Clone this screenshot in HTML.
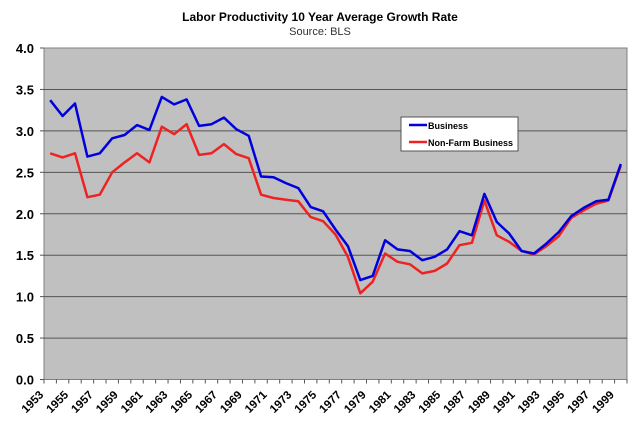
<!DOCTYPE html>
<html><head><meta charset="utf-8"><style>
html,body{margin:0;padding:0;background:#fff;}
svg{display:block;font-family:"Liberation Sans",Arial,sans-serif;}
</style></head><body>
<svg id="c" width="640" height="438" xmlns="http://www.w3.org/2000/svg">
<text x="320" y="21" text-anchor="middle" font-size="12" font-weight="bold">Labor Productivity 10 Year Average Growth Rate</text>
<text x="320" y="35" text-anchor="middle" font-size="11" fill="#333">Source: BLS</text>
<rect x="44" y="48" width="583" height="331.5" fill="#c0c0c0" stroke="#808080"/>
<g id="g"></g>
<rect x="401" y="117" width="117" height="34" fill="#fff" stroke="#555"/>
<line x1="409" y1="125" x2="427" y2="125" stroke="#0000dd" stroke-width="2.5"/>
<line x1="409" y1="142" x2="427" y2="142" stroke="#ee2222" stroke-width="2.5"/>
<text x="428" y="129" font-size="9" font-weight="bold">Business</text>
<text x="428" y="146" font-size="9" font-weight="bold">Non-Farm Business</text>
</svg>
<script>
var b=[3.37,3.18,3.33,2.69,2.73,2.91,2.95,3.07,3.01,3.41,3.32,3.38,3.06,3.08,3.16,3.02,2.94,2.45,2.44,2.37,2.31,2.08,2.03,1.81,1.61,1.20,1.25,1.68,1.57,1.55,1.44,1.48,1.57,1.79,1.74,2.24,1.90,1.76,1.55,1.52,1.64,1.78,1.97,2.07,2.15,2.17,2.60];
var n=[2.73,2.68,2.73,2.20,2.23,2.50,2.62,2.73,2.62,3.05,2.96,3.08,2.71,2.73,2.84,2.72,2.67,2.23,2.19,2.17,2.15,1.96,1.91,1.75,1.48,1.04,1.18,1.52,1.42,1.39,1.28,1.31,1.40,1.62,1.65,2.16,1.74,1.66,1.55,1.51,1.61,1.73,1.95,2.04,2.12,2.16,2.58];
var L=44,R=627,T=48,B=379.5,N=47,w=(R-L)/N;
function Y(v){return B-(v/4)*(B-T);}
var s='';
for(var i=1;i<8;i++){var y=Y(i*0.5);s+='<line x1="'+L+'" y1="'+y+'" x2="'+R+'" y2="'+y+'" stroke="#555" stroke-width="1"/>';}
for(var i=0;i<=8;i++){var y=Y(i*0.5);s+='<line x1="'+(L-4)+'" y1="'+y+'" x2="'+L+'" y2="'+y+'" stroke="#555"/>';
s+='<text x="34" y="'+(y+5)+'" text-anchor="end" font-size="13" font-weight="bold">'+(i*0.5).toFixed(1)+'</text>';}
for(var i=0;i<=N;i++){var x=L+i*w;s+='<line x1="'+x+'" y1="'+B+'" x2="'+x+'" y2="'+(B+4)+'" stroke="#555"/>';}
for(var i=0;i<N;i+=2){var x=L+(i+0.5)*w-6,y=B+16;s+='<text transform="translate('+x+','+y+') rotate(-45)" text-anchor="end" font-size="11.5" font-weight="bold">'+(1953+i)+'</text>';}
function P(d,c){var p='';for(var i=0;i<d.length;i++)p+=(L+(i+0.5)*w).toFixed(1)+','+Y(d[i]).toFixed(1)+' ';return '<polyline points="'+p+'" fill="none" stroke="'+c+'" stroke-width="2.5" stroke-linejoin="round"/>';}
s+=P(n,'#ee2222')+P(b,'#0000dd');
document.getElementById('g').innerHTML=s;
</script>
</body></html>
